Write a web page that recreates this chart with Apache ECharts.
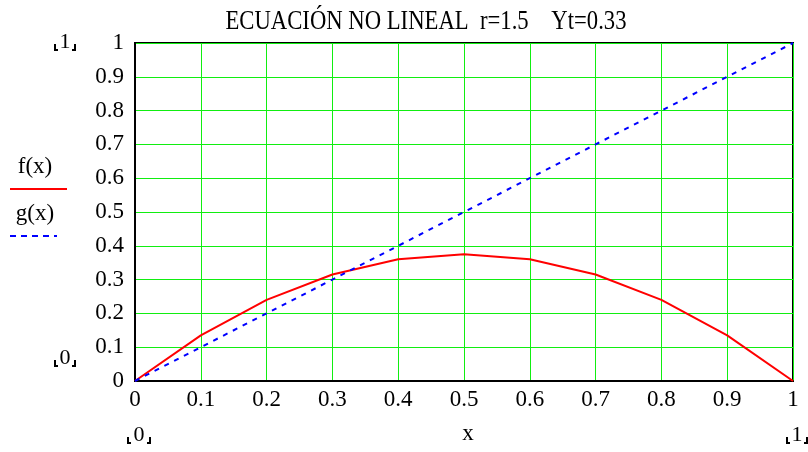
<!DOCTYPE html>
<html>
<head>
<meta charset="utf-8">
<script src="https://cdn.jsdelivr.net/npm/echarts@6/dist/echarts.min.js"></script>
<style>
  html, body { margin: 0; padding: 0; background: #fff; }
  #chart { width: 808px; height: 452px; }
</style>
</head>
<body>
<div id="chart"></div>
<script>
// Sample points of the logistic map f(x) = r·x·(1−x) with r = 1.5, and the identity g(x) = x
const xValues = [0, 0.1, 0.2, 0.3, 0.4, 0.5, 0.6, 0.7, 0.8, 0.9, 1];
const fValues = [0, 0.135, 0.24, 0.315, 0.36, 0.375, 0.36, 0.315, 0.24, 0.135, 0];
const gValues = [0, 0.1, 0.2, 0.3, 0.4, 0.5, 0.6, 0.7, 0.8, 0.9, 1];

const titleText = 'ECUACIÓN NO LINEAL  r=1.5    Yt=0.33';
const legendNames = ['f(x)', 'g(x)'];

const FONT = '"Liberation Serif", "Times New Roman", serif';

const fData = xValues.map((x, i) => [x, fValues[i]]);
const gData = xValues.map((x, i) => [x, gValues[i]]);

function fmt(v) {
  return String(Math.round(v * 10) / 10);
}

// Corner range marker: a number with small bracket ticks at its lower corners
function rangeMarker(label, cx, bottom, half) {
  return [
    { type: 'text', x: cx, y: bottom + 3,
      style: { text: label, font: '22px ' + FONT, fill: '#000', align: 'center', verticalAlign: 'bottom' } },
    { type: 'polyline', shape: { points: [[cx - half, bottom - 6], [cx - half, bottom], [cx - half + 3, bottom]] },
      style: { stroke: '#000', lineWidth: 2, fill: null } },
    { type: 'polyline', shape: { points: [[cx + half - 3, bottom], [cx + half, bottom], [cx + half, bottom - 6]] },
      style: { stroke: '#000', lineWidth: 2, fill: null } }
  ];
}

const chart = echarts.init(document.getElementById('chart'), null, { renderer: 'canvas' });

const graphics = [].concat(
  [
    { type: 'text', x: 426, y: 22, scaleX: 0.84,
      style: { text: titleText, font: '27px ' + FONT, fill: '#000', align: 'center', verticalAlign: 'middle' } },
    { type: 'text', x: 35, y: 167,
      style: { text: legendNames[0], font: '23px ' + FONT, fill: '#000', align: 'center', verticalAlign: 'middle' } },
    { type: 'line', shape: { x1: 10, y1: 189, x2: 67, y2: 189 },
      style: { stroke: '#ff0000', lineWidth: 2 } },
    { type: 'text', x: 35, y: 214,
      style: { text: legendNames[1], font: '23px ' + FONT, fill: '#000', align: 'center', verticalAlign: 'middle' } },
    { type: 'line', shape: { x1: 10, y1: 236, x2: 57, y2: 236 },
      style: { stroke: '#0000ff', lineWidth: 2, lineDash: [6, 5] } },
    { type: 'text', x: 468, y: 434,
      style: { text: 'x', font: '23px ' + FONT, fill: '#000', align: 'center', verticalAlign: 'middle' } }
  ],
  rangeMarker('1', 65, 50, 10),
  rangeMarker('0', 65, 366, 10),
  rangeMarker('0', 139, 443, 11),
  rangeMarker('1', 797, 443, 10)
);

chart.setOption({
  animation: false,
  backgroundColor: '#fff',
  grid: {
    left: 135, right: 15, top: 43, bottom: 71,
    show: true, borderColor: '#000', borderWidth: 2, backgroundColor: 'transparent'
  },
  xAxis: {
    type: 'value', min: 0, max: 1, interval: 0.1,
    axisLine: { show: true, lineStyle: { color: '#000', width: 2 } },
    axisTick: { show: false },
    axisLabel: { color: '#000', fontFamily: FONT, fontSize: 23, margin: 7, formatter: fmt },
    splitLine: { show: true, lineStyle: { color: '#11ee11', width: 1 } }
  },
  yAxis: {
    type: 'value', min: 0, max: 1, interval: 0.1,
    axisLine: { show: true, lineStyle: { color: '#000', width: 2 } },
    axisTick: { show: false },
    axisLabel: { color: '#000', fontFamily: FONT, fontSize: 23, margin: 11, formatter: fmt },
    splitLine: { show: true, lineStyle: { color: '#11ee11', width: 1 } }
  },
  series: [
    { name: legendNames[0], type: 'line', data: fData, symbol: 'none',
      lineStyle: { color: '#ff0000', width: 2 }, z: 3 },
    { name: legendNames[1], type: 'line', data: gData, symbol: 'none',
      lineStyle: { color: '#0000ff', width: 2, type: [5, 6] }, z: 4 }
  ],
  graphic: graphics
});
</script>
</body>
</html>
